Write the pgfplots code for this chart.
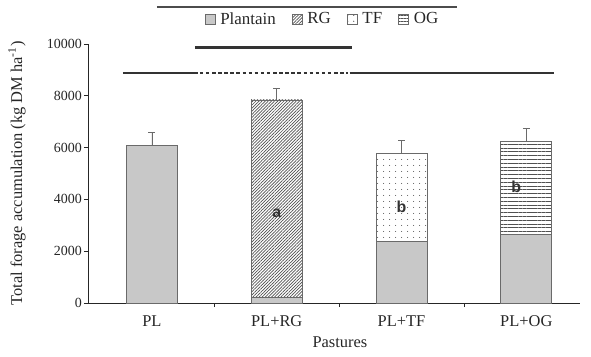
\documentclass[border=0pt]{standalone}
\usepackage{fontspec}
\setmainfont{Liberation Serif}
\newfontfamily\sansf{Liberation Sans}
\usepackage{pgfplots}
\pgfplotsset{compat=1.18}
\usetikzlibrary{patterns.meta}
\definecolor{barfill}{HTML}{C8C8C8}
\definecolor{edge}{HTML}{6A6A6A}
\definecolor{hatch}{HTML}{505050}
\definecolor{sig}{HTML}{333333}
\pgfplotsset{mybar/.style={ybar, bar width=51bp, bar shift=0pt, draw=edge, line width=0.7pt},
  myerr/.style={error bars/.cd, y dir=plus, y explicit,
    error bar style={edge, line width=0.8pt},
    error mark options={edge, mark size=3.5bp, line width=0.8pt, rotate=90}}}
\begin{document}
\begin{tikzpicture}
\useasboundingbox (-88bp,-54bp) rectangle (503bp,303bp);
\begin{axis}[
  at={(0,0)}, anchor=south west,
  scale only axis, width=492bp, height=259bp,
  xmin=-0.512, xmax=3.43, ymin=0, ymax=10000,
  clip=false,
  axis lines=left, axis line style={-, black!85, line width=0.8pt},
  tick style={black!85, line width=0.8pt},
  tick align=outside,
  major tick length=4bp, minor tick length=4bp,
  xtick={0,1,2,3}, xticklabels={PL, PL+RG, PL+TF, PL+OG},
  major x tick style={draw=none},
  minor xtick={0.5,1.5,2.5},
  ytick={0,2000,4000,6000,8000,10000},
  scaled y ticks=false,
  /pgf/number format/1000 sep={},
  /pgf/number format/assume math mode=true,
  yticklabel style={font=\fontsize{14}{14}\selectfont, text=black!85, inner sep=2bp},
  xticklabel style={font=\fontsize{16.5}{17}\selectfont, text=black!85, anchor=base, yshift=-19bp},
  xlabel={Pastures},
  ylabel={Total forage accumulation (kg DM ha\textsuperscript{-1})},
  xlabel style={font=\fontsize{16.5}{17}\selectfont, text=black!85, at={(axis description cs:0.512,-0.15)}, anchor=center},
  ylabel style={font=\fontsize{16.5}{17}\selectfont, text=black!85, at={(axis description cs:-0.1443,0.5)}, anchor=center, rotate=0},
  legend image code/.code={\draw[#1, line width=0.6pt] (0bp,-5bp) rectangle (10bp,5bp);},
  legend style={at={(axis description cs:0.4766,1.096)}, anchor=center, draw=none, fill=none,
    font=\fontsize{17}{17}\selectfont, text=black!85,
    /tikz/every odd column/.append style={column sep=3bp},
    /tikz/every even column/.append style={column sep=14bp}},
  legend columns=4,
]
\addlegendimage{fill=barfill, draw=edge}
\addlegendimage{pattern={Lines[angle=45,distance=2.2bp,line width=0.7bp]}, pattern color=hatch, draw=edge}
\addlegendimage{pattern={Dots[distance=6bp,radius=0.7bp]}, pattern color=hatch, draw=edge}
\addlegendimage{pattern={Lines[angle=0,distance=3bp,line width=0.7bp]}, pattern color=hatch, draw=edge}
\legend{Plantain, RG, TF, OG}

% PL
\addplot[mybar, fill=barfill, forget plot, myerr] coordinates {(0,6100) +- (0,500)};
% PL+RG
\addplot[mybar, pattern={Lines[angle=45,distance=2.2bp,line width=0.7bp]}, pattern color=hatch, forget plot, myerr] coordinates {(1,7840) +- (0,460)};
\addplot[mybar, fill=barfill, forget plot] coordinates {(1,230)};
% PL+TF
\addplot[mybar, pattern={Dots[distance=6bp,radius=0.6bp]}, pattern color=hatch, forget plot, myerr] coordinates {(2,5790) +- (0,470)};
\addplot[mybar, fill=barfill, forget plot] coordinates {(2,2390)};
% PL+OG
\addplot[mybar, pattern={Lines[angle=0,distance=3.8bp,line width=0.7bp]}, pattern color=hatch, forget plot, myerr] coordinates {(3,6250) +- (0,500)};
\addplot[mybar, fill=barfill, forget plot] coordinates {(3,2660)};

% significance lines
\addplot[sharp plot, no marks, sig, line width=2.8bp, forget plot] coordinates {(0.344,9850) (1.6,9850)};
\addplot[sharp plot, no marks, sig, line width=2.8bp, forget plot] coordinates {(-0.232,8880) (0.368,8880)};
\addplot[sharp plot, no marks, sig, line width=2.8bp, dash pattern=on 3.5bp off 2.6bp, forget plot] coordinates {(0.384,8880) (1.568,8880)};
\addplot[sharp plot, no marks, sig, line width=2.8bp, forget plot] coordinates {(1.584,8880) (3.224,8880)};

\draw[black!70, line width=1.2bp] (axis cs:0.04,11430) -- (axis cs:2.448,11430);

\node[font=\sansf\bfseries\fontsize{16}{16}\selectfont, text=black!80] at (axis cs:1,3470) {a};
\node[font=\sansf\bfseries\fontsize{16}{16}\selectfont, text=black!80] at (axis cs:2,3700) {b};
\node[font=\sansf\bfseries\fontsize{16}{16}\selectfont, text=black!80] at (axis cs:2.92,4480) {b};
\end{axis}
\end{tikzpicture}
\end{document}
